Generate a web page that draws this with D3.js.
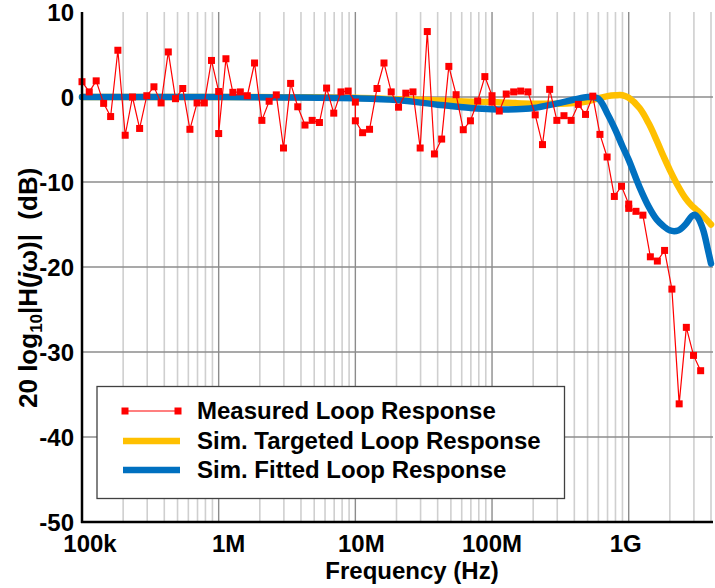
<!DOCTYPE html>
<html>
<head>
<meta charset="utf-8">
<script src="https://cdn.jsdelivr.net/npm/d3@7"></script>
<style>
  body { margin: 0; background: #fff; }
  svg { display: block; }
  text { font-family: "Liberation Sans", Arial, sans-serif; font-weight: bold; fill: #000; }
</style>
</head>
<body>
<svg id="chart" width="715" height="588"></svg>
<script>
// Measured loop response: five stitched sweeps, 20 log-spaced points per decade
const measuredFreq = [
  1.00e5, 1.13e5, 1.27e5, 1.44e5, 1.62e5, 1.83e5, 2.07e5, 2.34e5, 2.64e5, 2.98e5,
  3.36e5, 3.79e5, 4.28e5, 4.83e5, 5.46e5, 6.16e5, 6.95e5, 7.85e5, 8.86e5, 1.00e6,
  1.00e6, 1.13e6, 1.27e6, 1.44e6, 1.62e6, 1.83e6, 2.07e6, 2.34e6, 2.64e6, 2.98e6,
  3.36e6, 3.79e6, 4.28e6, 4.83e6, 5.46e6, 6.16e6, 6.95e6, 7.85e6, 8.86e6, 1.00e7,
  1.00e7, 1.13e7, 1.27e7, 1.44e7, 1.62e7, 1.83e7, 2.07e7, 2.34e7, 2.64e7, 2.98e7,
  3.36e7, 3.79e7, 4.28e7, 4.83e7, 5.46e7, 6.16e7, 6.95e7, 7.85e7, 8.86e7, 1.00e8,
  1.00e8, 1.13e8, 1.27e8, 1.44e8, 1.62e8, 1.83e8, 2.07e8, 2.34e8, 2.64e8, 2.98e8,
  3.36e8, 3.79e8, 4.28e8, 4.83e8, 5.46e8, 6.16e8, 6.95e8, 7.85e8, 8.86e8, 1.00e9,
  1.00e9, 1.13e9, 1.27e9, 1.44e9, 1.62e9, 1.83e9, 2.07e9, 2.34e9, 2.64e9, 2.98e9,
  3.36e9
];
const measuredDb = [
  1.8, 0.6, 1.9, -0.75, -2.3, 5.5, -4.5, 0.0, -3.7, 0.15,
  1.2, -0.7, 5.3, -0.2, 1.0, -3.8, -0.7, -0.7, 4.3, 0.65,
  -4.3, 4.5, 0.55, 0.6, 0.15, 4.0, -2.75, -0.5, 0.25, -6.0,
  1.6, -1.15, -3.3, -2.75, -3.0, 1.05, -1.9, 0.6, 0.7, -0.6,
  -2.8, -4.2, -3.8, 1.0, 4.0, 0.6, -1.2, 0.45, 0.6, -6.0,
  7.7, -6.7, -4.95, 3.6, 0.27, -3.85, -2.8, -0.47, 2.4, 0.15,
  -0.6, -1.65, 0.35, 0.6, 0.7, 0.6, -2.1, -5.6, 0.9, -2.75,
  -2.2, -2.75, -0.87, -2.05, 0.1, -4.4, -7.06, -11.7, -10.5, -12.6,
  -13.1, -13.45, -13.9, -18.8, -19.3, -18.05, -22.6, -36.1, -27.1, -30.4,
  -32.2
];

// Simulated responses sampled on a common frequency grid
const simFreq = [
  1e5, 3e5, 1e6, 3e6, 1e7, 2e7, 4e7, 7e7, 1e8, 1.5e8,
  2e8, 3e8, 4e8, 5e8, 6e8, 7e8, 8e8, 9e8, 1e9, 1.2e9,
  1.4e9, 1.6e9, 1.8e9, 2e9, 2.3e9, 2.6e9, 2.9e9, 3.05e9, 3.2e9, 3.5e9,
  3.8e9, 4e9
];
const simTargetDb = [
  0, 0, 0, -0.02, -0.1, -0.25, -0.4, -0.55, -0.6, -0.72,
  -0.78, -0.8, -0.7, -0.5, -0.15, 0.1, 0.2, 0.2, -0.1, -1.3,
  -3.1, -5.1, -7.0, -8.6, -10.5, -11.9, -12.8, -13.1, -13.4, -14.0,
  -14.6, -15.0
];
const simFittedDb = [
  0, 0, 0, -0.05, -0.15, -0.35, -0.9, -1.3, -1.45, -1.45,
  -1.3, -0.75, -0.3, 0.0, -0.2, -2.0, -3.9, -5.8, -7.4, -10.6,
  -12.9, -14.4, -15.2, -15.7, -15.7, -15.0, -14.0, -13.85, -14.15, -15.6,
  -18.0, -19.6
];

const xTickValues = [1e5, 1e6, 1e7, 1e8, 1e9];
const xTickLabels = ["100k", "1M", "10M", "100M", "1G"];
const yTickValues = [10, 0, -10, -20, -30, -40, -50];
const seriesNames = ["Measured Loop Response", "Sim. Targeted Loop Response", "Sim. Fitted Loop Response"];
const seriesColors = ["#ff0000", "#ffc000", "#0070c0"];

const svg = d3.select("#chart");
const x = d3.scaleLog().domain([1e5, 4e9]).range([82, 711]);
const y = d3.scaleLinear().domain([-50, 10]).range([522, 12]);
const [x0, x1] = [82, 713];
const [yTop, yBot] = y.range().slice().reverse();

// grid
const grid = svg.append("g");
const isDecade = f => Math.abs(Math.log10(f) - Math.round(Math.log10(f))) < 1e-9;
const minor = x.ticks().filter(f => !isDecade(f));
grid.selectAll("line.minor").data(minor).join("line")
  .attr("x1", d => x(d)).attr("x2", d => x(d))
  .attr("y1", yTop).attr("y2", yBot)
  .attr("stroke", "#cfcfcf").attr("stroke-width", 1.6);
grid.selectAll("line.major").data(xTickValues).join("line")
  .attr("x1", d => x(d)).attr("x2", d => x(d))
  .attr("y1", yTop).attr("y2", yBot)
  .attr("stroke", "#8c8c8c").attr("stroke-width", 1.4);
grid.selectAll("line.h").data(yTickValues.filter(v => v > -50 && v < 10)).join("line")
  .attr("x1", x0).attr("x2", x1)
  .attr("y1", d => y(d)).attr("y2", d => y(d))
  .attr("stroke", "#8c8c8c").attr("stroke-width", 1.4);

// simulated curves
const simLine = vals => d3.line()
  .x((d, i) => x(simFreq[i]))
  .y(d => y(d))
  .curve(d3.curveCatmullRom.alpha(0.5))(vals);

svg.append("path").attr("d", simLine(simTargetDb))
  .attr("fill", "none").attr("stroke", seriesColors[1])
  .attr("stroke-width", 6.5).attr("stroke-linecap", "round").attr("stroke-linejoin", "round");
svg.append("path").attr("d", simLine(simFittedDb))
  .attr("fill", "none").attr("stroke", seriesColors[2])
  .attr("stroke-width", 6.5).attr("stroke-linecap", "round").attr("stroke-linejoin", "round");

// measured data
const meas = measuredFreq.map((f, i) => [f, measuredDb[i]]);
svg.append("path")
  .attr("d", d3.line().x(d => x(d[0])).y(d => y(d[1]))(meas))
  .attr("fill", "none").attr("stroke", seriesColors[0]).attr("stroke-width", 1.2);
const ms = 7;
svg.append("g").selectAll("rect").data(meas).join("rect")
  .attr("x", d => x(d[0]) - ms / 2).attr("y", d => y(d[1]) - ms / 2)
  .attr("width", ms).attr("height", ms)
  .attr("fill", seriesColors[0]);

// axes lines
svg.append("line").attr("x1", x0).attr("x2", x0).attr("y1", yTop).attr("y2", yBot + 1)
  .attr("stroke", "#000").attr("stroke-width", 2.5);
svg.append("line").attr("x1", x0 - 1).attr("x2", x1).attr("y1", yBot).attr("y2", yBot)
  .attr("stroke", "#000").attr("stroke-width", 2.5);

// tick labels
const fs = 24;
svg.append("g").selectAll("text").data(yTickValues).join("text")
  .attr("x", 74).attr("y", d => y(d)).attr("dy", "0.36em")
  .attr("text-anchor", "end").attr("font-size", fs)
  .text(d => d);
const labelNudge = [8, 10, 6, 0, -3];
svg.append("g").selectAll("text").data(xTickValues).join("text")
  .attr("x", (d, i) => x(d) + labelNudge[i]).attr("y", 552)
  .attr("text-anchor", "middle").attr("font-size", fs)
  .text((d, i) => xTickLabels[i]);

// axis titles
svg.append("text").attr("x", 412).attr("y", 579)
  .attr("text-anchor", "middle").attr("font-size", fs)
  .text("Frequency (Hz)");

const yt = svg.append("text")
  .attr("transform", "translate(37,408) rotate(-90)")
  .attr("text-anchor", "start").attr("font-size", 26)
  .style("white-space", "pre");
yt.append("tspan").text("20 log");
yt.append("tspan").attr("font-size", 17).attr("dy", 5).text("10");
yt.append("tspan").attr("dy", -5).text("|H(");
yt.append("tspan").attr("font-style", "italic").text("j");
yt.append("tspan").text("ω)|  (dB)");

// legend
const lg = svg.append("g");
lg.append("rect").attr("x", 97).attr("y", 386.5).attr("width", 467.5).attr("height", 112)
  .attr("fill", "#fff").attr("stroke", "#404040").attr("stroke-width", 1.3);
const rowY = [411, 441, 470];
seriesNames.forEach((name, i) => {
  const ly = rowY[i];
  if (i === 0) {
    lg.append("line").attr("x1", 125).attr("x2", 178).attr("y1", ly).attr("y2", ly)
      .attr("stroke", seriesColors[0]).attr("stroke-width", 1.2);
    [125, 178].forEach(mx => lg.append("rect")
      .attr("x", mx - ms / 2).attr("y", ly - ms / 2).attr("width", ms).attr("height", ms)
      .attr("fill", seriesColors[0]));
  } else {
    lg.append("line").attr("x1", 123).attr("x2", 180).attr("y1", ly).attr("y2", ly)
      .attr("stroke", seriesColors[i]).attr("stroke-width", 6.5);
  }
  lg.append("text").attr("x", 197).attr("y", ly + 8).attr("font-size", fs).text(name);
});
</script>
</body>
</html>
